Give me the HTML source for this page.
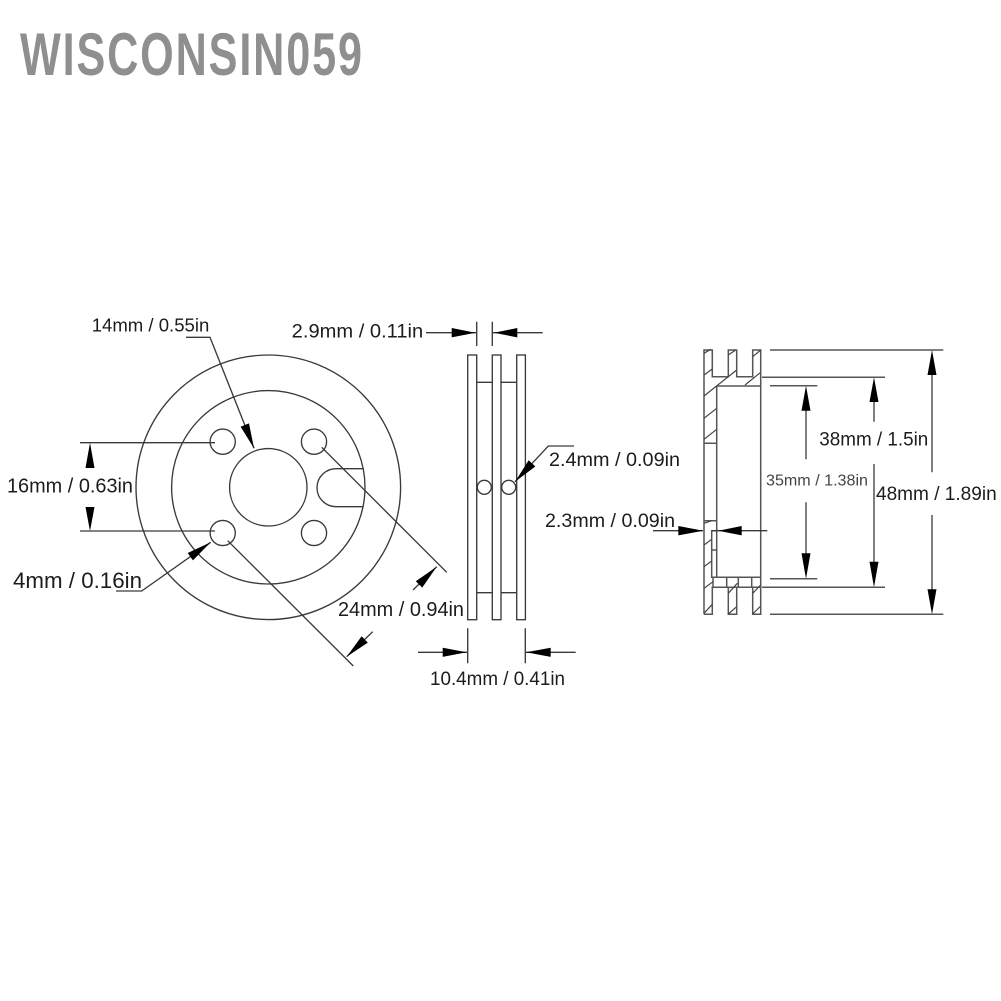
<!DOCTYPE html>
<html>
<head>
<meta charset="utf-8">
<style>
html,body{margin:0;padding:0;background:#fff;width:1001px;height:1001px;overflow:hidden}
svg{display:block;filter:blur(.3px)}
text{font-family:"Liberation Sans",Arial,sans-serif;fill:#1c1c1c;font-size:19px}
.l{stroke:#3a3a3a;stroke-width:1.35;fill:none}
.g{stroke:#555;stroke-width:1.5;fill:none}
.h{stroke:#444;stroke-width:1.2;fill:none}
.a{fill:#000;stroke:none}
</style>
</head>
<body>
<svg width="1001" height="1001" viewBox="0 0 1001 1001" xmlns="http://www.w3.org/2000/svg">
<rect width="1001" height="1001" fill="#fff"/>
<text transform="translate(20,75) scale(.72,1)" x="0" y="0" textLength="475" lengthAdjust="spacing" style="font-size:60px;font-weight:bold;fill:#8f8f8f">WISCONSIN059</text>

<!-- front view -->
<g class="l">
<circle cx="268.3" cy="487.3" r="132.3"/>
<circle cx="268.3" cy="487.3" r="96.7"/>
<circle cx="268.3" cy="487.3" r="38.7"/>
<circle cx="222.7" cy="441.7" r="12.6"/>
<circle cx="314" cy="441.7" r="12.6"/>
<circle cx="222.7" cy="533" r="12.6"/>
<circle cx="314" cy="533" r="12.6"/>
<path d="M363 468.7H336A19 19 0 0 0 336 506.7H363"/>
<path d="M186 337.3H210L254 448.3"/>
<path d="M80 442.7H215M80 531H215"/>
<path d="M116 591H141.7L210.7 542.3"/>
<path d="M321.7 447.3L446.7 572.3"/>
<path d="M227.7 540.7L353.3 666"/>
<path d="M372.7 631.7L346.7 656.7"/>
<path d="M413 590L436.7 566.7"/>
</g>
<polygon class="a" points="254,448.3 249,423.4 240.6,426.7"/>
<polygon class="a" points="90,442.7 85.5,468 94.5,468"/>
<polygon class="a" points="90,531 85.5,507 94.5,507"/>
<polygon class="a" points="210.7,542.3 192.9,560.4 187.7,553"/>
<polygon class="a" points="346.7,656.7 367.8,642.6 361.6,636.2"/>
<polygon class="a" points="436.7,566.7 422.2,587.6 415.8,581.2"/>

<!-- side view -->
<g class="l">
<rect x="467.7" y="355" width="9" height="264.7"/>
<rect x="492.3" y="355" width="8.7" height="264.7"/>
<rect x="516.7" y="355" width="8.7" height="264.7"/>
<path d="M476.7 382.3H492.3M501 382.3H516.7M476.7 592.7H492.3M501 592.7H516.7"/>
<circle cx="484.3" cy="487.3" r="7"/>
<circle cx="508.7" cy="487.3" r="7"/>
<path d="M476.7 321.7V346M492.3 321.7V346"/>
<path d="M426 332.7H476M493 332.7H542.7"/>
<path d="M467.7 628.3V663.3M525.3 628.3V663.3"/>
<path d="M418 652.3H467M526 652.3H575.7"/>
<path d="M574 446H548.3L515 481.7"/>
</g>
<polygon class="a" points="475.5,332.7 451.7,328 451.7,337.4"/>
<polygon class="a" points="494,332.7 517.3,328 517.3,337.4"/>
<polygon class="a" points="466.7,652.3 442.7,647.7 442.7,656.9"/>
<polygon class="a" points="526,652.3 550.7,647.7 550.7,656.9"/>
<polygon class="a" points="515,481.7 535.3,466.5 528.7,460.3"/>

<!-- section view -->
<g class="g">
<path d="M704 614.3V350H712.3V376.7H728.3V350H736.7V376.7H752.7V350H760.7V614.3H752.7V587.3H736.7V614.3H728.3V587.3H712.3V614.3H704"/>
<path d="M716.7 386H761M716.7 386V577.3H711.7V530.7H716.7M711.7 550H716.7M704 443.3H716.7M704 520.7H716.7"/>
<path d="M711.7 577.3H761M713 587.3H761M713 577.3V587.3M726.7 577.3V587.3M738.3 577.3V587.3M751.7 577.3V587.3"/>
</g>
<g class="h">
<path d="M704 353.3L710.7 349.3M704 375L712.3 369M704 396L736.7 370M745 385L760.7 372.3M728.3 355L735.7 350M752.7 356.7L760.7 350M704 418.3L716.7 408.3M704 439.3L716.7 429.3"/>
<path d="M704 523.3L711.7 520.7M704 545L711.7 539.3M704 566.7L711.7 561M704 588.3L713 581.7M704 613.3L712.3 604.3M728.3 593.3L737.3 583.3M728.3 614L736.7 606.7M752.7 593.3L760.7 585M752.7 614L760.7 606"/>
</g>
<g class="l">
<path d="M653 530.7H703M712 530.7H767.3"/>
</g>
<polygon class="a" points="703.3,530.7 678.3,526 678.3,535.4"/>
<polygon class="a" points="718.3,530.7 741.7,526 741.7,535.4"/>

<!-- right dimensions -->
<g class="g">
<path d="M770 350H943.3M762 377.3H885M770 385.7H817.3M770 578.7H817.3M762 587.3H885M770 614.3H943.3"/>
<path d="M806 400V459.3M806 502.3V560"/>
<path d="M874 395V421.7M874 464V570"/>
<path d="M932 365V472.3M932 515V600"/>
</g>
<polygon class="a" points="806,385.7 801.5,410.7 810.5,410.7"/>
<polygon class="a" points="806,578.7 801.5,553.3 810.5,553.3"/>
<polygon class="a" points="874,377.3 869.5,402 878.5,402"/>
<polygon class="a" points="874,587.3 869.5,561.7 878.5,561.7"/>
<polygon class="a" points="932,350 927.5,375 936.5,375"/>
<polygon class="a" points="932,614.3 927.5,589.3 936.5,589.3"/>

<!-- labels -->
<text x="91.7" y="331.7" textLength="117.6" lengthAdjust="spacingAndGlyphs" style="font-size:18.7px">14mm / 0.55in</text>
<text x="291.7" y="337.3" textLength="131.5" lengthAdjust="spacingAndGlyphs">2.9mm / 0.11in</text>
<text x="7" y="492.7" textLength="126" lengthAdjust="spacingAndGlyphs" style="font-size:20px">16mm / 0.63in</text>
<text x="13" y="588" textLength="129" lengthAdjust="spacingAndGlyphs" style="font-size:22px">4mm / 0.16in</text>
<text x="338" y="616" textLength="126" lengthAdjust="spacingAndGlyphs" style="font-size:20px">24mm / 0.94in</text>
<text x="430" y="685" textLength="135" lengthAdjust="spacingAndGlyphs">10.4mm / 0.41in</text>
<text x="549" y="466" textLength="131" lengthAdjust="spacingAndGlyphs">2.4mm / 0.09in</text>
<text x="545" y="527" textLength="130" lengthAdjust="spacingAndGlyphs">2.3mm / 0.09in</text>
<text x="819.3" y="445.3" textLength="109" lengthAdjust="spacingAndGlyphs">38mm / 1.5in</text>
<text x="766" y="485.3" textLength="102" lengthAdjust="spacingAndGlyphs" style="font-size:16px;fill:#444">35mm / 1.38in</text>
<text x="876" y="500" textLength="120.7" lengthAdjust="spacingAndGlyphs">48mm / 1.89in</text>
</svg>
</body>
</html>
